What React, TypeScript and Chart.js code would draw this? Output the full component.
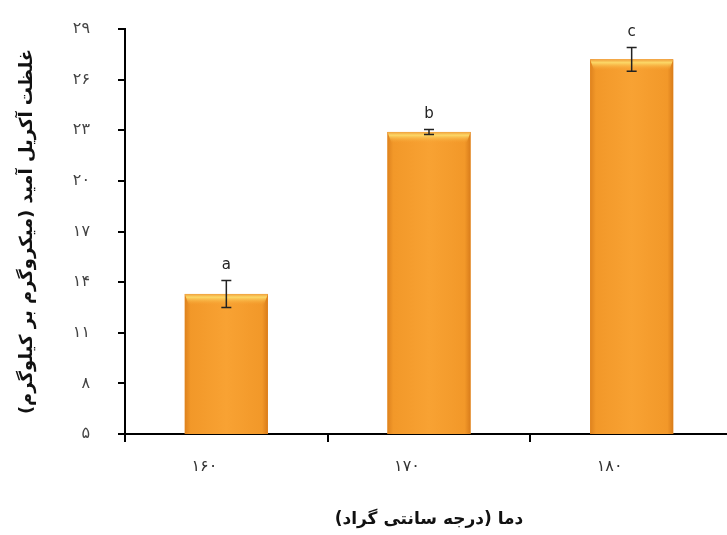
import React, { useEffect, useRef } from "react";
import { Chart, registerables } from "chart.js";

Chart.register(...registerables);

const categories = ["۱۶۰", "۱۷۰", "۱۸۰"];
const meanValues = [13.3, 22.9, 27.2];
const errorValues = [0.8, 0.15, 0.7];
const groupLetters = ["a", "b", "c"];
const yTickValues = [5, 8, 11, 14, 17, 20, 23, 26, 29];
const yTickLabels = ["۵", "۸", "۱۱", "۱۴", "۱۷", "۲۰", "۲۳", "۲۶", "۲۹"];
const xTitle = "دما (درجه سانتی گراد)";
const yTitle = "غلظت آکریل آمید (میکروگرم بر کیلوگرم)";

const FONT = "'DejaVu Sans', sans-serif";

const decoPlugin = {
  id: "deco",
  afterDatasetsDraw(chart: any) {
    const ctx = chart.ctx;
    const meta = chart.getDatasetMeta(0);
    const yScale = chart.scales.y;
    const area = chart.chartArea;
    meta.data.forEach((el: any, i: number) => {
      const p = el.getProps(["x", "y", "base", "width"], true);
      const x = p.x;
      const y = p.y;
      const width = p.width;
      const base = Math.min(p.base, area.bottom);
      const left = x - width / 2;
      const right = x + width / 2;
      ctx.save();
      const g = ctx.createLinearGradient(left, 0, right, 0);
      g.addColorStop(0, "#DE821E");
      g.addColorStop(0.07, "#F29829");
      g.addColorStop(0.5, "#F8A233");
      g.addColorStop(0.93, "#F29829");
      g.addColorStop(1, "#D97C1A");
      ctx.fillStyle = g;
      ctx.fillRect(left, y, width, base - y);
      const h = ctx.createLinearGradient(0, y, 0, y + 11);
      h.addColorStop(0, "#F0A03C");
      h.addColorStop(0.3, "#FCD867");
      h.addColorStop(1, "rgba(248,162,51,0)");
      ctx.fillStyle = h;
      ctx.beginPath();
      ctx.moveTo(left, y);
      ctx.lineTo(right, y);
      ctx.lineTo(right - 4, y + 11);
      ctx.lineTo(left + 4, y + 11);
      ctx.closePath();
      ctx.fill();
      const yTop = yScale.getPixelForValue(meanValues[i] + errorValues[i]);
      const yBot = yScale.getPixelForValue(meanValues[i] - errorValues[i]);
      ctx.strokeStyle = "#222";
      ctx.lineWidth = 1.5;
      ctx.beginPath();
      ctx.moveTo(x, yTop);
      ctx.lineTo(x, yBot);
      ctx.moveTo(x - 5, yTop);
      ctx.lineTo(x + 5, yTop);
      ctx.moveTo(x - 5, yBot);
      ctx.lineTo(x + 5, yBot);
      ctx.stroke();
      ctx.fillStyle = "#222";
      ctx.font = `15px ${FONT}`;
      ctx.textAlign = "center";
      ctx.textBaseline = "middle";
      ctx.fillText(groupLetters[i], x, yTop - 15);
      ctx.restore();
    });
  },
};

export default function App() {
  const canvasRef = useRef<HTMLCanvasElement | null>(null);

  useEffect(() => {
    if (!canvasRef.current) return;
    const chart = new Chart(canvasRef.current, {
      type: "bar",
      data: {
        labels: categories,
        datasets: [
          {
            data: meanValues,
            backgroundColor: "#F59B2E",
            borderWidth: 0,
            barPercentage: 0.41,
            categoryPercentage: 1,
          },
        ],
      },
      options: {
        animation: false,
        responsive: false,
        maintainAspectRatio: false,
        layout: { padding: { top: 29, right: 0, left: 0, bottom: 0 } },
        plugins: {
          legend: { display: false },
          tooltip: { enabled: false },
        },
        scales: {
          x: {
            offset: true,
            grid: {
              offset: true,
              drawOnChartArea: false,
              drawTicks: true,
              tickLength: 8,
              color: "#000",
              lineWidth: 2,
            },
            border: { color: "#000", width: 2 },
            ticks: {
              color: "#333",
              font: { family: FONT, size: 16 },
              padding: 15,
              labelOffset: -22,
              maxRotation: 0,
            },
            title: {
              display: true,
              text: xTitle,
              color: "#111",
              font: { family: FONT, size: 17, weight: "bold" },
              padding: { top: 0, bottom: 5 },
            },
            afterFit: (s: any) => {
              s.height = 101;
              s.paddingLeft = 0;
              s.paddingRight = 0;
            },
          },
          y: {
            min: 5,
            max: 29,
            afterBuildTicks: (s: any) => {
              s.ticks = yTickValues.map((v) => ({ value: v }));
            },
            grid: {
              drawOnChartArea: false,
              drawTicks: true,
              tickLength: 7,
              color: "#000",
              lineWidth: 2,
            },
            border: { color: "#000", width: 2 },
            ticks: {
              color: "#444",
              font: { family: FONT, size: 16 },
              padding: 28,
              callback: (_v: any, idx: number) => yTickLabels[idx],
            },
            title: {
              display: true,
              text: yTitle,
              color: "#111",
              font: { family: FONT, size: 18, weight: "bold" },
              padding: { top: 17, bottom: 0 },
            },
            afterFit: (s: any) => {
              s.width = 125;
              s.paddingTop = 10;
              s.paddingBottom = 10;
            },
          },
        },
      },
      plugins: [decoPlugin],
    });
    return () => chart.destroy();
  }, []);

  return (
    <div
      style={{
        position: "absolute",
        left: 0,
        top: 0,
        width: 727,
        height: 535,
        overflow: "hidden",
        background: "#fff",
      }}
    >
      <canvas ref={canvasRef} width={733} height={535} style={{ width: 733, height: 535, display: "block" }} />
    </div>
  );
}
